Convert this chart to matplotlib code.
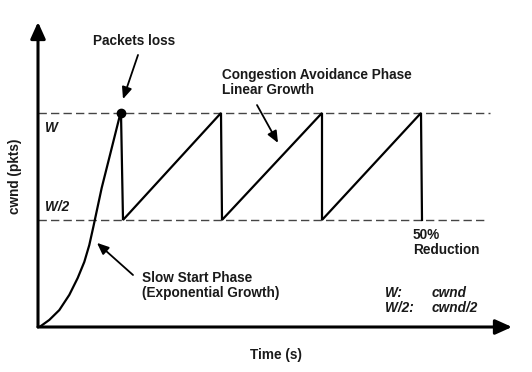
"""
TCP congestion window sawtooth (slow start + congestion avoidance).
"""
import matplotlib
matplotlib.use('Agg')
import matplotlib.pyplot as plt

# slow start phase (time, cwnd in units of W)
slow_t = [0.15, 1.13, 2.13, 3.13, 3.97, 4.63, 5.13, 5.53, 6.37, 7.2, 8.25]
slow_w = [0.0, 0.033, 0.079, 0.15, 0.229, 0.304, 0.383, 0.467, 0.65, 0.804, 1.0]

# congestion avoidance sawtooth
saw_t = [8.3, 8.5, 18.3, 18.4, 28.4, 28.4, 38.3, 38.4]
saw_w = [1.0, 0.5, 1.0, 0.5, 1.0, 0.5, 1.0, 0.5]

loss_t, loss_w = 8.3, 1.0
W_full, W_half = 1.0, 0.5

plt.rcParams['font.family'] = ['Liberation Sans', 'DejaVu Sans']

fig = plt.figure(figsize=(5.32, 3.72), dpi=100)
ax = fig.add_axes([38 / 532, 45 / 372, 474 / 532, 305 / 372])
ax.set_xlim(0, 47.4)
ax.set_ylim(0, 1.425)
ax.axis('off')

# reference levels
ax.plot([0, 45.2], [W_full, W_full], color='#444444', lw=1, dashes=(6, 3))
ax.plot([0, 44.9], [W_half, W_half], color='#444444', lw=1, dashes=(6, 3))

# cwnd curves
ax.plot(slow_t, slow_w, color='black', lw=1.6, solid_joinstyle='round')
ax.plot(saw_t, saw_w, color='black', lw=1.6, solid_joinstyle='miter')
ax.plot(loss_t, loss_w, 'o', color='black', ms=6)

# axes with arrow heads
arrow = dict(arrowstyle='-|>,head_length=1.0,head_width=0.45', color='black',
             lw=2.2, shrinkA=0, shrinkB=0)
ax.annotate('', xy=(47.4, 0), xytext=(0, 0), arrowprops=arrow, annotation_clip=False)
ax.annotate('', xy=(0, 1.425), xytext=(0, 0), arrowprops=arrow, annotation_clip=False)

fs = 9.8
txt = dict(fontsize=fs, fontweight='bold', color='#1a1a1a')

ax.text(0.7, 0.93, 'W', style='italic', ha='left', va='center', **txt)
ax.text(0.7, 0.56, 'W/2', style='italic', ha='left', va='center', **txt)

ax.text(-2.3, 0.703, 'cwnd (pkts)', rotation=90, ha='center', va='center', **txt)
ax.text(23.8, -0.13, 'Time (s)', ha='center', va='center', **txt)

# annotations with pointer arrows
ptr = dict(arrowstyle='-|>,head_length=0.7,head_width=0.3', color='black',
           lw=1.3, shrinkA=0, shrinkB=0)
ax.text(9.6, 1.336, 'Packets loss', ha='center', va='center', **txt)
ax.annotate('', xy=(8.5, 1.065), xytext=(10.0, 1.271), arrowprops=ptr)

ax.text(18.4, 1.143, 'Congestion Avoidance Phase\nLinear Growth', ha='left',
        va='center', linespacing=1.1, **txt)
ax.annotate('', xy=(24.0, 0.86), xytext=(21.9, 1.037), arrowprops=ptr)

ax.text(10.4, 0.194, 'Slow Start Phase\n(Exponential Growth)', ha='left',
        va='center', linespacing=1.1, **txt)
ax.annotate('', xy=(5.9, 0.393), xytext=(9.5, 0.243), arrowprops=ptr)

ax.text(37.5, 0.395, '50%\nReduction', ha='left', va='center',
        linespacing=1.1, **txt)

ax.text(34.7, 0.124, 'W:\nW/2:', style='italic', ha='left', va='center',
        linespacing=1.1, **txt)
ax.text(39.4, 0.124, 'cwnd\ncwnd/2', style='italic', ha='left', va='center',
        linespacing=1.1, **txt)

fig.savefig('out.png', dpi=100)
